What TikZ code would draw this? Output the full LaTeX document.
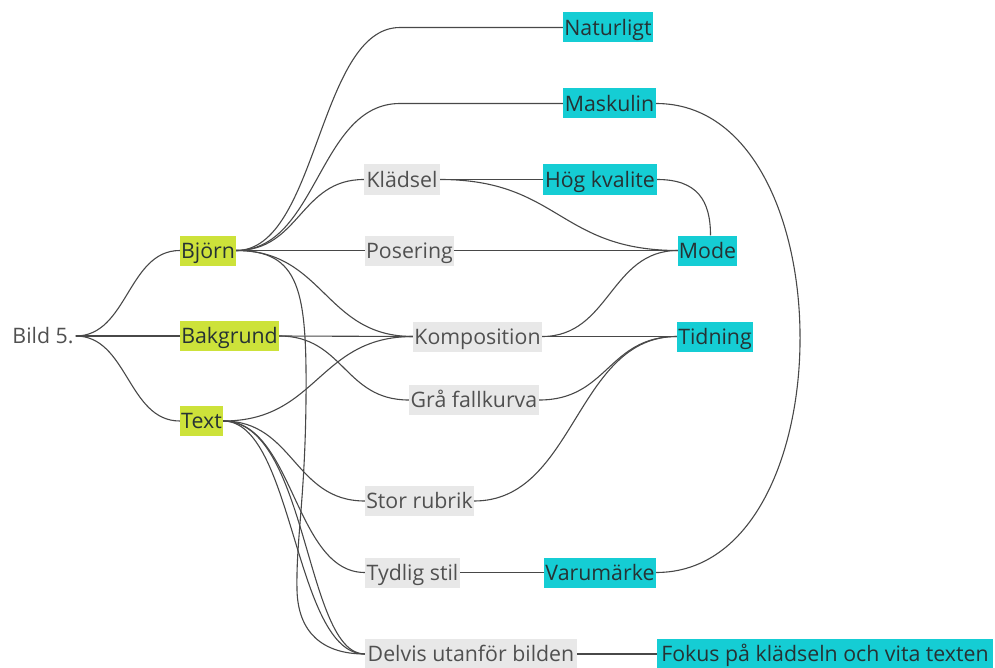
\documentclass[tikz,border=0pt]{standalone}
\usepackage{fontspec}
\setmainfont{Open Sans}
\usetikzlibrary{calc}
\definecolor{limebox}{RGB}{205,226,58}
\definecolor{cyanbox}{RGB}{21,205,212}
\definecolor{greybox}{RGB}{232,232,232}
\definecolor{inkdark}{RGB}{38,50,52}
\definecolor{inkgrey}{RGB}{80,80,80}
\definecolor{edgeink}{RGB}{72,72,72}
\begin{document}
\begin{tikzpicture}[x=1bp,y=-1bp,
  base/.style={inner xsep=0pt, inner ysep=0pt, minimum height=30bp,
    text height=17.8bp, text depth=2.6bp,
    font=\fontsize{21.4}{25}\selectfont, anchor=center},
  hub/.style={base, fill=limebox, text=inkdark},
  item/.style={base, fill=greybox, text=inkgrey},
  goal/.style={base, fill=cyanbox, text=inkdark},
  link/.style={draw=edgeink, line width=1.1bp},
  hlink/.style={to path={let \p1=(\tikztostart), \p2=(\tikztotarget) in
    .. controls ({0.5*\x1+0.5*\x2},\y1) and ({0.5*\x1+0.5*\x2},\y2) .. (\tikztotarget)}}]
\useasboundingbox (0,0) rectangle (995,668);

% root
\node[base, inner xsep=2bp, text=inkgrey] (root) at (43,336) {Bild 5.};

% first level
\node[hub, minimum width=56bp] (bjorn) at (208,250.5) {Björn};
\node[hub, minimum width=99bp] (bakgrund) at (229.5,336) {Bakgrund};
\node[hub, minimum width=43bp] (textnode) at (201.5,421) {Text};

% second level
\node[item, minimum width=76bp] (kladsel) at (402,179.5) {Klädsel};
\node[item, minimum width=89bp] (posering) at (409.5,250.5) {Posering};
\node[item, minimum width=129bp] (komposition) at (477.5,336.5) {Komposition};
\node[item, minimum width=130bp] (grafall) at (474,400) {Grå fallkurva};
\node[item, minimum width=109bp] (storrubrik) at (419.5,501) {Stor rubrik};
\node[item, minimum width=95bp] (tydlig) at (412.5,572.5) {Tydlig stil};
\node[item, minimum width=212bp] (delvis) at (471,654) {Delvis utanför bilden};

% outcomes
\node[goal, minimum width=90bp] (naturligt) at (608,27.5) {Naturligt};
\node[goal, minimum width=93bp] (maskulin) at (609.5,103.5) {Maskulin};
\node[goal, minimum width=114bp] (hog) at (600,179.5) {Hög kvalite};
\node[goal, minimum width=59bp] (mode) at (707.5,250.5) {Mode};
\node[goal, minimum width=76bp] (tidning) at (715,336.5) {Tidning};
\node[goal, minimum width=112bp] (varumarke) at (600,572.5) {Varumärke};
\node[goal, minimum width=336bp] (fokus) at (825,654) {Fokus på klädseln och vita texten};

% root links
\draw[link] (root.east) to[hlink] (bjorn.west);
\draw[link] (root.east) -- (bakgrund.west);
\draw[link] (root.east) to[hlink] (textnode.west);

% Björn
\draw[link] (bjorn.east) .. controls (318,250.5) and (318,27.5) .. (400,27.5) -- (naturligt.west);
\draw[link] (bjorn.east) .. controls (318,250.5) and (318,103.5) .. (400,103.5) -- (maskulin.west);
\draw[link] (bjorn.east) to[hlink] (kladsel.west);
\draw[link] (bjorn.east) -- (posering.west);
\draw[link] (bjorn.east) to[hlink] (komposition.west);
\draw[link] (bjorn.east) .. controls (300,250.5) and (307,290) .. (306,400)
  .. controls (305,500) and (296,540) .. (297,590)
  .. controls (298,632) and (322,654) .. (delvis.west);

% Bakgrund
\draw[link] (bakgrund.east) -- (komposition.west);
\draw[link] (bakgrund.east) to[hlink] (grafall.west);

% Text
\draw[link] (textnode.east) to[hlink] (komposition.west);
\draw[link] (textnode.east) to[hlink] (storrubrik.west);
\draw[link] (textnode.east) to[hlink] (tydlig.west);
\draw[link] (textnode.east) to[hlink] (delvis.west);
\draw[link] (textnode.east) .. controls +(85,0) and +(-60,0) .. (delvis.west);

% second level to outcomes
\draw[link] (kladsel.east) -- (hog.west);
\draw[link] (kladsel.east) to[hlink] (mode.west);
\draw[link] (posering.east) -- (mode.west);
\draw[link] (komposition.east) to[hlink] (mode.west);
\draw[link] (komposition.east) -- (tidning.west);
\draw[link] (grafall.east) to[hlink] (tidning.west);
\draw[link] (storrubrik.east) to[hlink] (tidning.west);
\draw[link] (tydlig.east) -- (varumarke.west);
\draw[link] (delvis.east) -- (fokus.west);

% links between outcomes
\draw[link] (hog.east) .. controls +(40,0) and +(0,-35) .. ([xshift=3bp]mode.north);
\draw[link] (maskulin.east) .. controls (848,103.5) and (848,572.5) .. (varumarke.east);
\end{tikzpicture}
\end{document}
